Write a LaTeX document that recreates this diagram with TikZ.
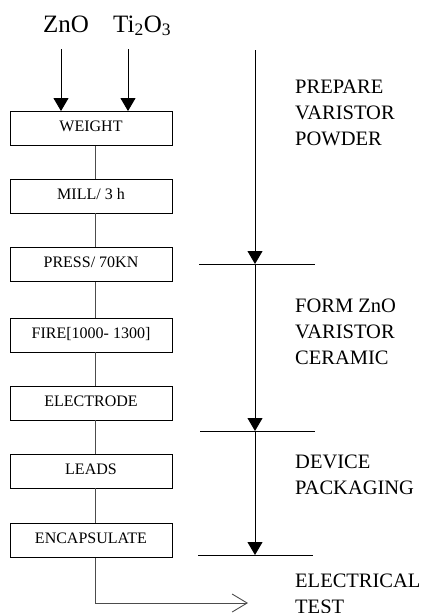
\documentclass[tikz,border=0pt]{standalone}
\usepackage{fontspec}
\setmainfont{Liberation Serif}
\usetikzlibrary{arrows.meta}
\tikzset{
  stagebox/.style={draw=black, line width=0.9pt, minimum width=162pt, minimum height=34pt,
    inner sep=0pt, font=\fontsize{16}{18}\selectfont, text height=11pt, text depth=5pt},
  link/.style={draw=black!70, line width=0.9pt},
  flow/.style={draw=black, line width=0.9pt, -{Triangle[length=13pt,width=15pt]}},
  bar/.style={draw=black, line width=0.9pt},
  phase/.style={anchor=north west, inner sep=0pt, align=left, font=\fontsize{20.5}{26}\selectfont},
  chem/.style={anchor=base west, inner sep=0pt, font=\fontsize{25}{28}\selectfont}
}
\begin{document}
\begin{tikzpicture}[x=1pt, y=-1pt]
\useasboundingbox (0,0) rectangle (423,613);
% inputs
\node[chem] (zno) at (43,32) {ZnO};
\node[chem] (tio) at (113,32) {Ti\textsubscript{2}O\textsubscript{3}};
% process boxes
\node[stagebox] (weight) at (91,128.5) {WEIGHT};
\node[stagebox] (mill)   at (91,196)   {MILL/ 3 h};
\node[stagebox] (press)  at (91,264.5) {PRESS/ 70KN};
\node[stagebox] (fire)   at (91,335)   {FIRE[1000- 1300]};
\node[stagebox] (elec)   at (91,403)   {ELECTRODE};
\node[stagebox] (leads)  at (91,471)   {LEADS};
\node[stagebox] (encap)  at (91,540.5) {ENCAPSULATE};
% input arrows
\coordinate (inA) at (61,49);
\coordinate (inB) at (128,49);
\draw[flow] (inA) -- (inA |- weight.north);
\draw[flow] (inB) -- (inB |- weight.north);
% box connectors
\draw[link] ([xshift=4pt]weight.south) -- ([xshift=4pt]mill.north);
\draw[link] ([xshift=4pt]mill.south) -- ([xshift=4pt]press.north);
\draw[link] ([xshift=4pt]press.south) -- ([xshift=4pt]fire.north);
\draw[link] ([xshift=4pt]fire.south) -- ([xshift=4pt]elec.north);
\draw[link] ([xshift=4pt]elec.south) -- ([xshift=4pt]leads.north);
\draw[link] ([xshift=4pt]leads.south) -- ([xshift=4pt]encap.north);
% output
\coordinate (outEnd) at (248,603);
\draw[link, -{Straight Barb[length=15pt,width=18pt]}] ([xshift=4pt]encap.south) |- (outEnd);
% phase bars
\coordinate (v0) at (255,50);
\coordinate (b1l) at (199,264); \coordinate (b1r) at (315,264);
\coordinate (b2l) at (200,431); \coordinate (b2r) at (315,431);
\coordinate (b3l) at (198,555); \coordinate (b3r) at (313,555);
\coordinate (p1) at (v0 |- b1l);
\coordinate (p2) at (v0 |- b2l);
\coordinate (p3) at (v0 |- b3l);
\draw[bar] (b1l) -- (b1r);
\draw[bar] (b2l) -- (b2r);
\draw[bar] (b3l) -- (b3r);
\draw[flow] (v0) -- (p1);
\draw[flow] (p1) -- (p2);
\draw[flow] (p2) -- (p3);
% phase labels
\node[phase] (ph1) at (295,79.5) {PREPARE\\VARISTOR\\POWDER};
\node[phase] (ph2) at (295,298.5) {FORM ZnO\\VARISTOR\\CERAMIC};
\node[phase] (ph3) at (295,454.5) {DEVICE\\PACKAGING};
\node[phase] (ph4) at (295,573.5) {ELECTRICAL\\TEST};
\end{tikzpicture}
\end{document}
